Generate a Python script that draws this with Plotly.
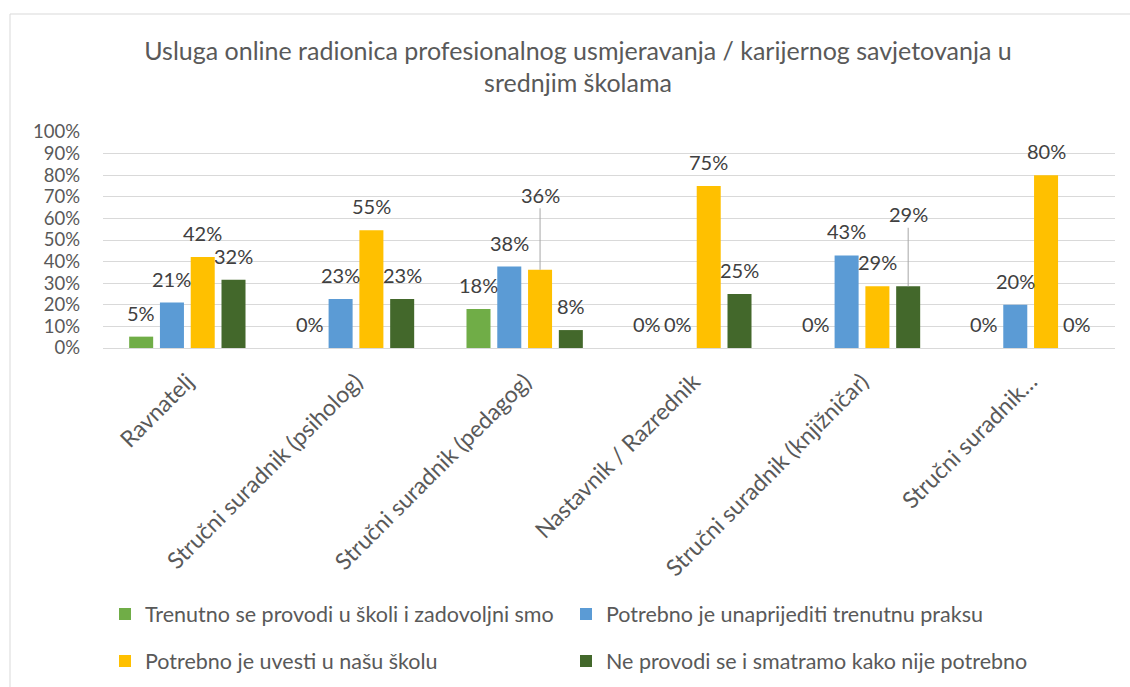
import plotly.graph_objects as go

categories = ["Ravnatelj", "Stručni suradnik (psiholog)", "Stručni suradnik (pedagog)",
              "Nastavnik / Razrednik", "Stručni suradnik (knjižničar)", "Stručni suradnik…"]
series_names = ["Trenutno se provodi u školi i zadovoljni smo",
                "Potrebno je unaprijediti trenutnu praksu",
                "Potrebno je uvesti u našu školu",
                "Ne provodi se i smatramo kako nije potrebno"]
s1 = [0.0526, 0.0, 0.18, 0.0, 0.0, 0.0]
s2 = [0.2105, 0.2273, 0.377, 0.0, 0.4286, 0.20]
s3 = [0.4211, 0.5455, 0.362, 0.75, 0.2857, 0.80]
s4 = [0.3158, 0.2273, 0.083, 0.25, 0.2857, 0.0]
series_values = [s1, s2, s3, s4]
colors = ["#70AD47", "#5B9BD5", "#FFC000", "#43682B"]
title_text = ("Usluga online radionica profesionalnog usmjeravanja / karijernog savjetovanja u"
              "<br>srednjim školama")

FONT = "Lato"
TXT = "#595959"
LBL = "#404040"
BARGAP = 0.27
GROUPGAP = 0.22

fig = go.Figure()
for i, (name, vals, col) in enumerate(zip(series_names, series_values, colors)):
    fig.add_trace(go.Bar(
        x=categories, y=vals, name=name, marker=dict(color=col, line=dict(width=0)),
        legend="legend" if i < 2 else "legend2", hoverinfo="skip",
    ))

# data labels (Excel-style, above bars; two moved up with leader lines)
leader = {(2, 2): 75, (4, 3): 72}
slot = (1 - BARGAP) / 4
annotations = []
for si, vals in enumerate(series_values):
    for ci, v in enumerate(vals):
        xpos = ci + (si - 1.5) * slot
        txt = f"{round(v * 100):d}%"
        if (ci, si) in leader:
            annotations.append(dict(
                x=xpos, y=v, xref="x", yref="y", text=txt, showarrow=True,
                arrowhead=0, arrowwidth=1, arrowcolor="#A6A6A6", ax=0, ay=-leader[(ci, si)],
                standoff=0, font=dict(family=FONT, size=20, color=LBL)))
        else:
            annotations.append(dict(
                x=xpos, y=v, xref="x", yref="y", text=txt, showarrow=False,
                yanchor="middle", yshift=24, font=dict(family=FONT, size=20, color=LBL)))

legend_common = dict(orientation="h", xref="container", x=105 / 1130, xanchor="left",
                     yanchor="middle", entrywidth=416, entrywidthmode="pixels",
                     font=dict(family=FONT, size=21.5, color=TXT), bgcolor="rgba(0,0,0,0)")

fig.update_layout(
    width=1130, height=687,
    margin=dict(l=103, r=15, t=132, b=339, autoexpand=False),
    paper_bgcolor="white", plot_bgcolor="white",
    barmode="group", bargap=BARGAP, bargroupgap=GROUPGAP,
    title=dict(text=title_text, x=0.5115, xref="container", xanchor="center",
               y=0.913, yanchor="top", font=dict(family=FONT, size=25, color=TXT)),
    font=dict(family=FONT, color=TXT),
    xaxis=dict(tickangle=-45, tickfont=dict(family=FONT, size=23, color=TXT),
               showline=True, linecolor="#D9D9D9", linewidth=1.3, ticks="",
               showgrid=False, ticklabelstandoff=10, automargin=False),
    yaxis=dict(range=[0, 1], dtick=0.1, tickformat=".0%",
               tickfont=dict(family=FONT, size=18.5, color=TXT),
               showgrid=True, gridcolor="#D9D9D9", gridwidth=1.3, zeroline=False,
               showline=False, ticks="", ticklabelstandoff=22, automargin=False),
    legend=dict(legend_common, yref="container", y=1 - 614 / 687),
    legend2=dict(legend_common, yref="container", y=1 - 661 / 687),
    annotations=annotations,
    shapes=[dict(type="rect", xref="paper", yref="paper",
                 x0=(10 - 103) / 1012, x1=(1145 - 103) / 1012,
                 y0=(348 - 14) / 216, y1=(348 - 700) / 216,
                 line=dict(color="#D9D9D9", width=1), fillcolor="rgba(0,0,0,0)", layer="below")],
)

fig.write_html("out.html", config={"displayModeBar": False},
               post_script="document.body.style.margin='0';")
